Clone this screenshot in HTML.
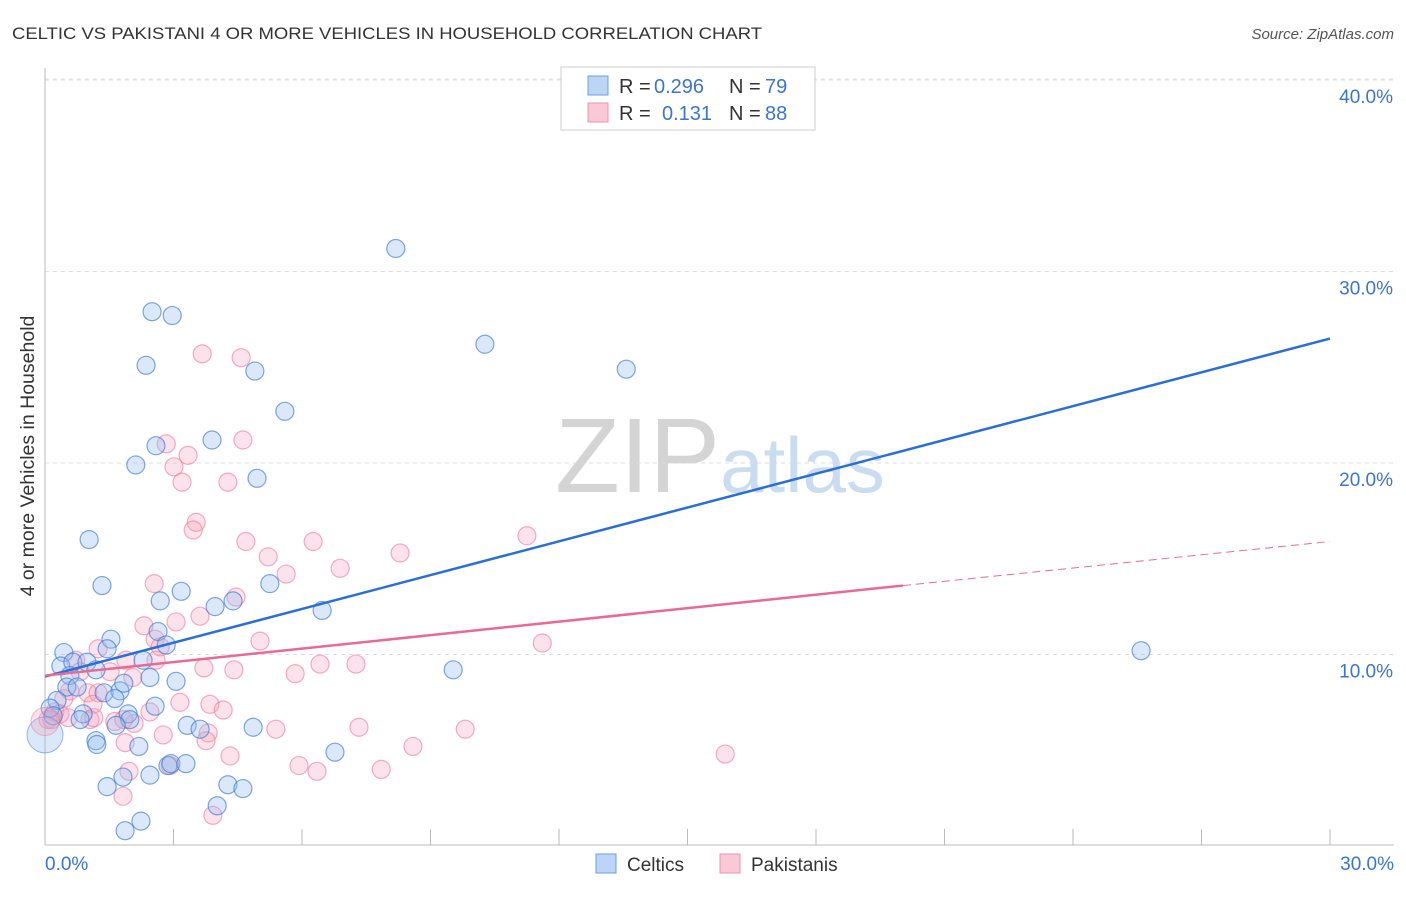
<!DOCTYPE html>
<html><head><meta charset="utf-8"><style>
body{margin:0;background:#fff;font-family:"Liberation Sans",sans-serif;}
svg text{font-family:"Liberation Sans",sans-serif;}
</style></head><body>
<svg id="chart" width="1406" height="892" xmlns="http://www.w3.org/2000/svg">
<text x="12" y="39" font-size="17" fill="#333" textLength="750" lengthAdjust="spacingAndGlyphs">CELTIC VS PAKISTANI 4 OR MORE VEHICLES IN HOUSEHOLD CORRELATION CHART</text>
<text x="1394" y="39" font-size="15" fill="#555" font-style="italic" text-anchor="end">Source: ZipAtlas.com</text>
<text transform="translate(34,456) rotate(-90)" font-size="19.5" fill="#333" text-anchor="middle">4 or more Vehicles in Household</text>
<text x="720" y="492" font-size="106" fill="#ddd" text-anchor="middle" font-family="Liberation Serif"><tspan fill="#d4d4d4">ZIP</tspan><tspan fill="#c9dcf0" font-family="Liberation Sans" font-size="78">atlas</tspan></text>
<g id="grid"></g>
<g id="axes"></g>
<g id="points"></g>
<g id="lines"></g>
<g>
<rect x="561" y="67" width="254" height="63" fill="#fff" stroke="#ccc"/>
<rect x="588" y="76" width="20" height="19" fill="#bcd4f5" stroke="#6d9fe0"/>
<rect x="588" y="103" width="20" height="19" fill="#f9c9d6" stroke="#ef93ad"/>
<text x="619" y="93" font-size="20" fill="#333">R =</text>
<text x="654" y="93" font-size="20" fill="#3a74d4">0.296</text>
<text x="729" y="93" font-size="20" fill="#333">N =</text>
<text x="765" y="93" font-size="20" fill="#3a74d4">79</text>
<text x="619" y="120" font-size="20" fill="#333">R =</text>
<text x="662" y="120" font-size="20" fill="#3a74d4">0.131</text>
<text x="729" y="120" font-size="20" fill="#333">N =</text>
<text x="765" y="120" font-size="20" fill="#3a74d4">88</text>
</g>
<g>
<rect x="596" y="854" width="20" height="19" fill="#bcd4f5" stroke="#6d9fe0"/>
<text x="627" y="871" font-size="19" fill="#333">Celtics</text>
<rect x="720" y="854" width="20" height="19" fill="#f9c9d6" stroke="#ef93ad"/>
<text x="751" y="871" font-size="19" fill="#333">Pakistanis</text>
</g>
</svg>
<script>
const celticsX=[8.19,2.50,2.97,10.27,2.36,4.90,13.57,5.60,2.59,3.90,2.12,4.95,1.03,1.33,5.25,3.18,2.69,3.97,4.39,6.47,25.59,9.53,1.54,1.45,2.64,2.83,0.44,0.37,0.65,0.98,1.19,0.58,2.29,2.45,3.06,0.51,0.75,1.38,1.75,1.84,1.63,0.28,0.12,0.19,0.89,0.82,1.94,1.98,2.57,1.66,3.32,3.62,4.86,1.19,1.21,2.19,6.77,2.45,1.82,2.87,2.94,3.29,1.45,4.27,4.62,4.02,2.24,1.87];
const celticsY=[31.2,27.9,27.7,26.2,25.1,24.8,24.9,22.7,20.9,21.2,19.9,19.2,16.0,13.6,13.7,13.3,12.8,12.5,12.8,12.3,10.2,9.2,10.8,10.3,11.2,10.5,10.1,9.4,9.6,9.6,9.2,8.9,9.7,8.8,8.6,8.3,8.3,8.0,8.1,8.5,7.7,7.6,7.2,6.8,6.9,6.6,6.9,6.6,7.3,6.3,6.3,6.1,6.2,5.5,5.3,5.2,4.9,3.7,3.6,4.2,4.3,4.3,3.1,3.2,3.0,2.1,1.3,0.8];
const pakX=[3.67,4.58,2.83,4.62,3.34,3.01,3.20,4.27,3.53,3.46,11.25,4.69,6.26,8.29,5.21,6.89,5.63,2.55,4.46,2.31,3.06,3.62,2.57,2.69,11.61,5.02,1.24,1.89,2.59,3.71,4.41,6.42,7.26,5.84,0.72,0.82,1.52,2.05,0.58,1.00,1.24,0.44,1.12,3.15,3.85,4.16,2.45,0.23,0.35,0.07,0.16,0.54,1.05,1.14,1.63,2.08,1.84,3.81,3.76,2.76,5.39,7.33,9.81,15.88,8.59,4.32,1.87,5.93,6.35,7.85,2.92,1.96,1.82,3.92];
const pakY=[25.7,25.5,21.0,21.2,20.4,19.8,19.0,19.0,16.9,16.5,16.2,15.9,15.9,15.3,15.1,14.5,14.2,13.7,13.0,11.5,11.7,12.0,10.8,10.4,10.6,10.7,10.3,9.7,9.7,9.3,9.2,9.5,9.5,9.0,9.7,9.1,9.1,8.8,8.1,8.0,8.0,7.7,7.4,7.5,7.4,7.1,7.0,7.0,6.9,6.6,6.6,6.7,6.6,6.7,6.5,6.4,6.6,5.9,5.5,5.8,6.1,6.2,6.1,4.8,5.2,4.7,5.4,4.2,3.9,4.0,4.2,3.9,2.6,1.6];
const yTicks=[10,20,30,40];
const yTickLabels=["10.0%","20.0%","30.0%","40.0%"];
const celticsTrend=[8.85,26.5];
const pakTrend=[8.9,13.6,15.9];
const pakTrendBreak=20.03;
const NS="http://www.w3.org/2000/svg";
const xs=v=>45+v/30*1285;
const ys=v=>846-v*19.15;
function mk(tag,attrs,parent){const e=document.createElementNS(NS,tag);for(const k in attrs)e.setAttribute(k,attrs[k]);parent.appendChild(e);return e;}
const grid=document.getElementById('grid'),axes=document.getElementById('axes'),pts=document.getElementById('points'),lines=document.getElementById('lines');
yTicks.forEach((t,i)=>{
 const l=mk('line',{x1:45,x2:1394,y1:ys(t),y2:ys(t),stroke:'#ddd','stroke-dasharray':'4,4'},grid);
 
 
 const tx=mk('text',{x:1393,y:ys(t)+23,'font-size':19,fill:'#3a74d4','text-anchor':'end'},axes);
 tx.textContent=yTickLabels[i];
 
 
});
const topLine=mk('line',{x1:45,x2:1394,y1:79,y2:79,stroke:'#e4e4e4','stroke-dasharray':'4,4'},grid);


const ya=mk('line',{x1:45,x2:45,y1:68,y2:845,stroke:'#bbb'},axes);


const xa=mk('line',{x1:45,x2:1394,y1:845,y2:845,stroke:'#bbb'},axes);


for(let i=0;i<=10;i++){const tk=mk('line',{x1:xs(i*3),x2:xs(i*3),y1:829,y2:845,stroke:'#bbb'},axes);
 
 }
const xl0=mk('text',{x:45,y:870,'font-size':19,fill:'#3a74d4'},axes);xl0.textContent='0.0%';


const xl1=mk('text',{x:1394,y:870,'font-size':19,fill:'#3a74d4','text-anchor':'end'},axes);xl1.textContent='30.0%';


pakX.forEach((x,i)=>{const c=mk('circle',{cx:xs(x),cy:ys(pakY[i]),r:9,fill:'rgba(244,160,185,0.3)',stroke:'rgba(236,120,155,0.6)','stroke-width':1.2},pts);
 
 });
celticsX.forEach((x,i)=>{const c=mk('circle',{cx:xs(x),cy:ys(celticsY[i]),r:9,fill:'rgba(150,190,240,0.35)',stroke:'rgba(60,120,210,0.65)','stroke-width':1.2},pts);
 
 });
const big1=mk('circle',{cx:xs(0),cy:ys(5.8),r:18,fill:'rgba(150,190,240,0.35)',stroke:'rgba(60,120,210,0.5)'},pts);


const big2=mk('circle',{cx:xs(0),cy:ys(6.5),r:14,fill:'rgba(244,160,185,0.3)',stroke:'rgba(236,120,155,0.5)'},pts);


const bl=mk('line',{x1:xs(0),y1:ys(celticsTrend[0]),x2:xs(30),y2:ys(celticsTrend[1]),stroke:'#2a6fd6','stroke-width':2.5},lines);


const pl=mk('line',{x1:xs(0),y1:ys(pakTrend[0]),x2:xs(pakTrendBreak),y2:ys(pakTrend[1]),stroke:'#e86a94','stroke-width':2.5},lines);


const pd=mk('line',{x1:xs(pakTrendBreak),y1:ys(pakTrend[1]),x2:xs(30),y2:ys(pakTrend[2]),stroke:'#e86a94','stroke-width':1,'stroke-dasharray':'8,5'},lines);


</script>
</body></html>
